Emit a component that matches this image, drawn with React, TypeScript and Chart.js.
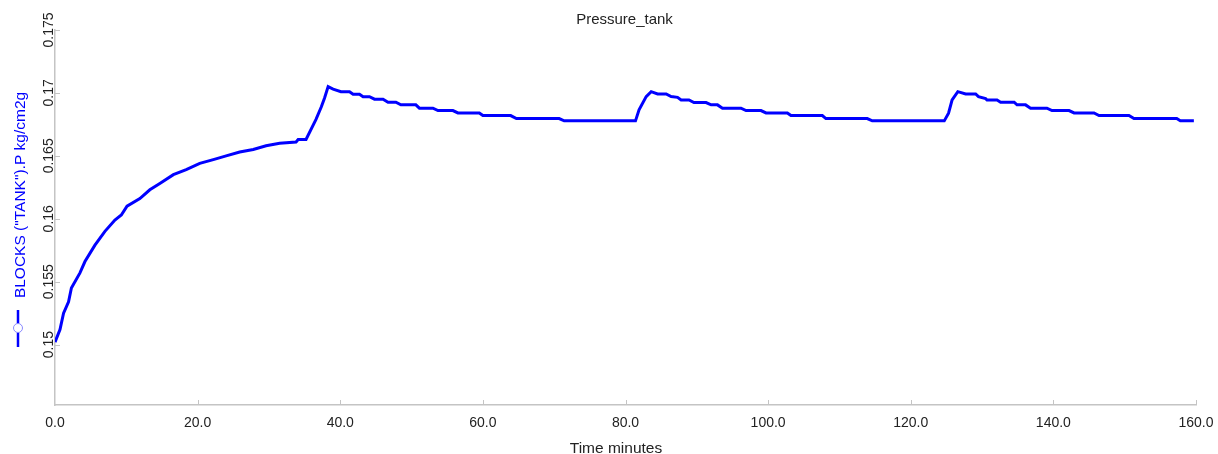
import React, { useEffect, useRef } from "react";
import { Chart, registerables } from "chart.js";

Chart.register(...registerables);

const chartTitle = "Pressure_tank";
const xTitle = "Time minutes";
const yTitle = 'BLOCKS ("TANK").P kg/cm2g';

const timeMinutes = [
  0, 0.7, 1.2, 1.9, 2.3, 3.5, 4.2, 5.6, 7.0, 8.4, 9.3, 10.1, 11.9, 13.3, 14.7, 16.6, 18.4, 20.3, 22.2, 24.0,
  25.9, 27.8, 29.6, 31.5, 33.8, 34.1, 35.2, 36.6, 37.35, 37.8, 38.3, 39.0, 40.1, 41.3, 41.8, 42.7, 43.2, 44.1,
  44.8, 46.0, 46.7, 47.8, 48.5, 50.6, 51.1, 53.0, 53.7, 55.8, 56.5, 59.5, 60.0, 63.9, 64.7, 70.7, 71.4, 81.4,
  81.9, 82.9, 83.6, 84.5, 85.7, 86.4, 87.3, 87.8, 88.9, 89.6, 91.3, 92.0, 92.9, 93.6, 96.2, 96.9, 99.0, 99.7,
  102.7, 103.2, 107.6, 108.1, 113.9, 114.6, 124.7, 125.3, 125.8, 126.6, 127.7, 129.1, 129.5, 130.5, 130.7,
  132.1, 132.6, 134.5, 134.9, 136.1, 136.8, 139.1, 139.8, 142.2, 142.9, 145.7, 146.4, 150.6, 151.3, 157.3,
  157.8, 159.7,
];

const pressureTank = [
  0.1502, 0.1512, 0.1525, 0.1534, 0.1545, 0.1557, 0.1566, 0.1579, 0.159, 0.1599, 0.1603, 0.161, 0.1616, 0.1623,
  0.1628, 0.1635, 0.1639, 0.1644, 0.1647, 0.165, 0.1653, 0.1655, 0.1658, 0.166, 0.1661, 0.1663, 0.1663, 0.1679,
  0.1689, 0.1696, 0.1705, 0.1703, 0.1701, 0.1701, 0.1699, 0.1699, 0.1697, 0.1697, 0.1695, 0.1695, 0.16926,
  0.16926, 0.16905, 0.16905, 0.16879, 0.16879, 0.1686, 0.1686, 0.16841, 0.16841, 0.1682, 0.1682, 0.16796,
  0.16796, 0.16778, 0.16778, 0.16865, 0.16971, 0.1701, 0.16992, 0.16992, 0.16971, 0.16965, 0.16944, 0.16944,
  0.16923, 0.16923, 0.16905, 0.16905, 0.16879, 0.16879, 0.1686, 0.1686, 0.16841, 0.16841, 0.1682, 0.1682,
  0.16796, 0.16796, 0.16778, 0.16778, 0.16839, 0.16944, 0.1701, 0.16992, 0.16992, 0.16971, 0.16955, 0.16944,
  0.16944, 0.16926, 0.16926, 0.16905, 0.16905, 0.16879, 0.16879, 0.1686, 0.1686, 0.16841, 0.16841, 0.1682,
  0.1682, 0.16796, 0.16796, 0.16778, 0.16778,
];

const xTicks = [0, 20, 40, 60, 80, 100, 120, 140, 160];
const yTicks = [0.15, 0.155, 0.16, 0.165, 0.17, 0.175];
const yTickLabels = ["0.15", "0.155", "0.16", "0.165", "0.17", "0.175"];

const FONT = "'Liberation Sans', Arial, Helvetica, sans-serif";
const AXIS_COLOR = "#c4c4c4";
const TEXT_COLOR = "#222222";
const LINE_COLOR = "#0000ff";

const decorPlugin = {
  id: "decor",
  afterDraw(chart: any) {
    const ctx = chart.ctx;
    const xs = chart.scales.x;
    const ys = chart.scales.y;
    const area = chart.chartArea;
    ctx.save();
    // inner tick marks
    ctx.strokeStyle = AXIS_COLOR;
    ctx.lineWidth = 1;
    ctx.beginPath();
    xTicks.forEach((t) => {
      if (t === 0) return;
      const px = Math.round(xs.getPixelForValue(t)) + 0.5;
      ctx.moveTo(px, area.bottom);
      ctx.lineTo(px, area.bottom - 5);
    });
    yTicks.forEach((t) => {
      const py = Math.round(ys.getPixelForValue(t)) + 0.5;
      ctx.moveTo(area.left, py);
      ctx.lineTo(area.left + 5, py);
    });
    ctx.stroke();

    // y tick labels (rotated)
    ctx.fillStyle = TEXT_COLOR;
    ctx.font = `14px ${FONT}`;
    ctx.textAlign = "center";
    ctx.textBaseline = "alphabetic";
    yTicks.forEach((t, i) => {
      const py = ys.getPixelForValue(t);
      ctx.save();
      ctx.translate(area.left - 2, py);
      ctx.rotate(-Math.PI / 2);
      ctx.fillText(yTickLabels[i], 0, 0);
      ctx.restore();
    });

    // chart title
    ctx.font = `15px ${FONT}`;
    ctx.textAlign = "center";
    ctx.fillStyle = TEXT_COLOR;
    ctx.fillText(chartTitle, 624.5, 24);

    // x title
    ctx.font = `15.5px ${FONT}`;
    ctx.fillText(xTitle, 616, 453);

    // y title with legend symbol
    ctx.save();
    ctx.translate(25, 195);
    ctx.rotate(-Math.PI / 2);
    ctx.fillStyle = LINE_COLOR;
    ctx.font = `15.5px ${FONT}`;
    ctx.textAlign = "center";
    ctx.fillText(yTitle, 0, 0);
    ctx.restore();

    ctx.strokeStyle = LINE_COLOR;
    ctx.lineWidth = 2.5;
    ctx.beginPath();
    ctx.moveTo(18, 310);
    ctx.lineTo(18, 347);
    ctx.stroke();
    ctx.beginPath();
    ctx.arc(18, 328, 4.5, 0, Math.PI * 2);
    ctx.fillStyle = "#ffffff";
    ctx.fill();
    ctx.lineWidth = 1;
    ctx.strokeStyle = "#8a8aff";
    ctx.stroke();
    ctx.restore();
  },
};

export default function App() {
  const canvasRef = useRef<HTMLCanvasElement | null>(null);

  useEffect(() => {
    if (!canvasRef.current) return;
    const points = timeMinutes.map((t, i) => ({ x: t, y: pressureTank[i] }));
    const chart = new Chart(canvasRef.current, {
      type: "line",
      data: {
        datasets: [
          {
            label: yTitle,
            data: points,
            borderColor: LINE_COLOR,
            backgroundColor: LINE_COLOR,
            borderWidth: 3,
            pointRadius: 0,
            tension: 0,
            fill: false,
          },
        ],
      },
      options: {
        animation: false,
        responsive: false,
        maintainAspectRatio: false,
        layout: { padding: { left: 0, right: 22, top: 30, bottom: 0 } },
        plugins: {
          legend: { display: false },
          title: { display: false },
          tooltip: { enabled: false },
        },
        scales: {
          x: {
            type: "linear",
            min: 0,
            max: 160,
            afterFit: (s: any) => {
              s.height = 49;
              s.paddingLeft = 0;
              s.paddingRight = 0;
            },
            afterBuildTicks: (s: any) => {
              s.ticks = xTicks.map((v) => ({ value: v }));
            },
            ticks: {
              callback: (v: any) => Number(v).toFixed(1),
              font: { size: 14, family: FONT },
              color: TEXT_COLOR,
              padding: 10,
              maxRotation: 0,
              autoSkip: false,
            },
            grid: { drawOnChartArea: false, drawTicks: false, color: AXIS_COLOR },
            border: { display: true, color: AXIS_COLOR, width: 1.5 },
            title: { display: false },
          },
          y: {
            type: "linear",
            min: 0.1452,
            max: 0.175,
            afterFit: (s: any) => {
              s.width = 55;
              s.paddingTop = 0;
              s.paddingBottom = 0;
            },
            ticks: { display: false },
            grid: { drawOnChartArea: false, drawTicks: false, color: AXIS_COLOR },
            border: { display: true, color: AXIS_COLOR, width: 1.5 },
            title: { display: false },
          },
        },
      },
      plugins: [decorPlugin],
    });
    return () => chart.destroy();
  }, []);

  return (
    <div style={{ position: "fixed", left: 0, top: 0, width: 1218, height: 454, background: "#ffffff" }}>
      <canvas ref={canvasRef} width={1218} height={454} style={{ display: "block", width: 1218, height: 454 }} />
    </div>
  );
}
